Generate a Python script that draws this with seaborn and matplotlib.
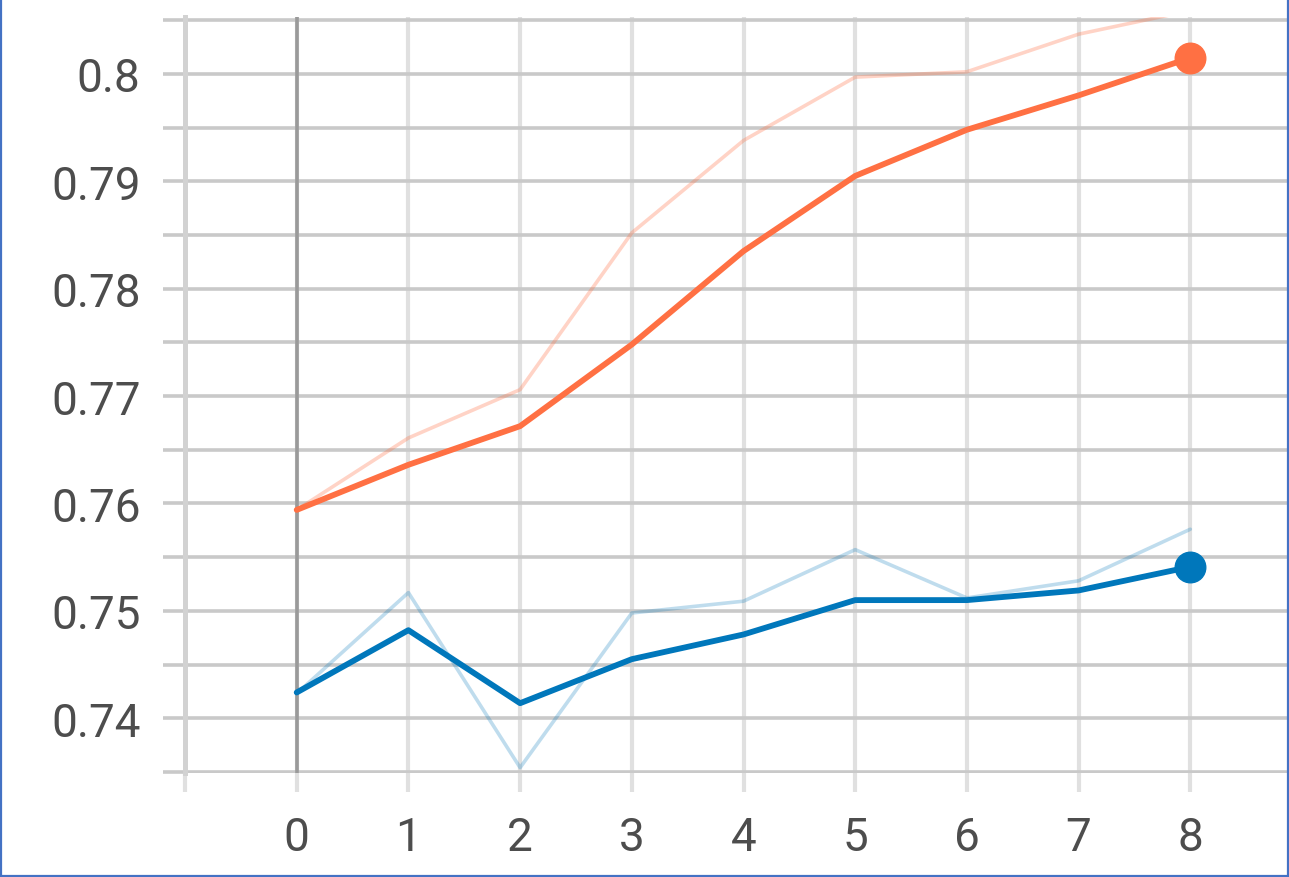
import matplotlib
matplotlib.use("Agg")
import matplotlib.pyplot as plt
from matplotlib.lines import Line2D
from matplotlib.ticker import FixedLocator, FuncFormatter
import seaborn as sns
import pandas as pd

steps = [0, 1, 2, 3, 4, 5, 6, 7, 8]
orange_raw = [0.7594, 0.7661, 0.7706, 0.7852, 0.7938, 0.7997, 0.8002, 0.8037, 0.8059]
orange_smooth = [0.7594, 0.7636, 0.7672, 0.7748, 0.7835, 0.7905, 0.7948, 0.7980, 0.8015]
blue_raw = [0.7423, 0.7517, 0.7354, 0.7498, 0.7509, 0.7557, 0.7512, 0.7528, 0.7576]
blue_smooth = [0.7424, 0.7482, 0.7414, 0.7455, 0.7478, 0.7510, 0.7510, 0.7519, 0.7541]

y_ticks = [0.735, 0.74, 0.745, 0.75, 0.755, 0.76, 0.765, 0.77, 0.775,
           0.78, 0.785, 0.79, 0.795, 0.8, 0.805]
x_ticks = [-1, 0, 1, 2, 3, 4, 5, 6, 7, 8]

ORANGE = "#ff7043"
BLUE = "#0077bb"
TXT = "#4d4d4d"

sns.set_style("white")
plt.rcParams["font.family"] = ["Roboto", "DejaVu Sans"]

df = pd.DataFrame({"step": steps, "orange_raw": orange_raw, "orange_smooth": orange_smooth,
                   "blue_raw": blue_raw, "blue_smooth": blue_smooth})

fig = plt.figure(figsize=(12.89, 8.78), dpi=100)
ax = fig.add_axes([185 / 1289, 1 - 774 / 878, (1287 - 185) / 1289, (774 - 18) / 878])

# raw (faded) runs
sns.lineplot(data=df, x="step", y="orange_raw", ax=ax, color=ORANGE, alpha=0.3, lw=2.6, zorder=3)
sns.lineplot(data=df, x="step", y="blue_raw", ax=ax, color=BLUE, alpha=0.25, lw=2.6, zorder=3)
# smoothed runs
sns.lineplot(data=df, x="step", y="orange_smooth", ax=ax, color=ORANGE, lw=4.2, zorder=4)
sns.lineplot(data=df, x="step", y="blue_smooth", ax=ax, color=BLUE, lw=4.2, zorder=4)
# last point dots
last = df.tail(1)
ax.plot(last["step"], last["orange_smooth"], "o", color=ORANGE, ms=22, zorder=5, clip_on=False)
ax.plot(last["step"], last["blue_smooth"], "o", color=BLUE, ms=22, zorder=5, clip_on=False)

ax.set_xlim(-1, -1 + (1287 - 185) / 111.7)
ax.set_ylim(0.7349, 0.8053)

ax.xaxis.set_major_locator(FixedLocator(x_ticks))
ax.xaxis.set_major_formatter(FuncFormatter(lambda v, p: "" if v < 0 else f"{int(v)}"))
ax.yaxis.set_major_locator(FixedLocator(y_ticks))
ax.yaxis.set_major_formatter(FuncFormatter(
    lambda v, p: f"{v:g}" if abs(round(v * 100) - v * 100) < 1e-6 and v < 0.805 else ""))

ax.tick_params(axis="x", bottom=True, length=14, width=3.0, color="#e0e0e0", pad=16,
               labelsize=33, labelcolor=TXT)
ax.tick_params(axis="y", left=True, length=16, width=2.6, color="#c9c9c9", pad=16,
               labelsize=33, labelcolor=TXT)

ax.xaxis.grid(True, color="#e0e0e0", lw=3.0, zorder=0)
ax.yaxis.grid(True, color="#c9c9c9", lw=2.6, zorder=0)
ax.set_axisbelow(True)
ax.axvline(0, color="#9a9a9a", lw=2.6, zorder=1)

for s in ["top", "right", "bottom"]:
    ax.spines[s].set_visible(False)
ax.spines["left"].set_color("#d2d2d2")
ax.spines["left"].set_linewidth(3.6)

ax.set_xlabel("")
ax.set_ylabel("")

# thin blue frame on left, right and bottom
for xs, ys in [([0.0008, 0.0008], [0, 1]), ([0.9992, 0.9992], [0, 1]), ([0, 1], [0.0012, 0.0012])]:
    fig.add_artist(Line2D(xs, ys, transform=fig.transFigure, color="#4472c4", lw=1.6))

fig.savefig("out.png", dpi=100)
